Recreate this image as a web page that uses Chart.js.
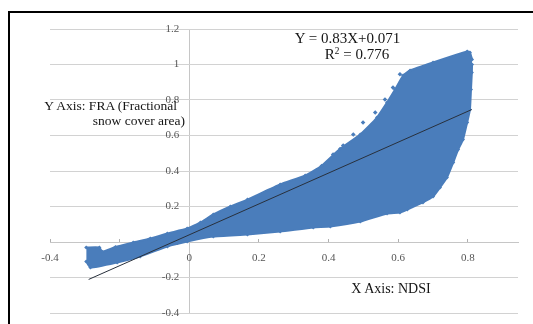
<!DOCTYPE html>
<html><head><meta charset="utf-8">
<script src="https://cdn.jsdelivr.net/npm/chart.js@4.4.1/dist/chart.umd.min.js"></script>
<style>
html,body{margin:0;padding:0;background:#fff;overflow:hidden;width:533px;height:324px;}
#wrap{position:relative;width:533px;height:324px;overflow:hidden;background:#fff;}
#hbar{position:absolute;left:8px;top:11px;width:525px;height:2px;background:#000;}
#vbar{position:absolute;left:8px;top:11px;width:2px;height:313px;background:#000;}
canvas{position:absolute;left:0;top:0;}
.t{position:absolute;font-family:"Liberation Serif","Times New Roman",serif;color:#141414;white-space:nowrap;line-height:1;}
.t sup{font-size:0.62em;line-height:0;vertical-align:0.55em;}
</style></head><body>
<div id="wrap">
<canvas id="c" width="533" height="324"></canvas>
<div id="hbar"></div>
<div id="vbar"></div>
<div class="t" style="left:347.5px;top:31px;font-size:15px;transform:translateX(-50%);">Y = 0.83X+0.071</div>
<div class="t" style="left:357px;top:47px;font-size:15px;transform:translateX(-50%);">R<sup>2</sup> = 0.776</div>
<div class="t" style="right:356px;top:99px;font-size:13.5px;">Y Axis: FRA (Fractional</div>
<div class="t" style="right:348px;top:114px;font-size:13.5px;">snow cover area)</div>
<div class="t" style="left:391px;top:282px;font-size:14px;transform:translateX(-50%);">X Axis: NDSI</div>
</div>
<script>
// ---- data ----
const xTickValues = [-0.4, -0.2, 0, 0.2, 0.4, 0.6, 0.8];
const xTickLabels = ['-0.4', '-0.2', '0', '0.2', '0.4', '0.6', '0.8'];
const yTickValues = [-0.4, -0.2, 0, 0.2, 0.4, 0.6, 0.8, 1, 1.2];
const yTickLabels = ['-0.4', '-0.2', '0', '0.2', '0.4', '0.6', '0.8', '1', '1.2'];

// upper envelope of the NDSI / FRA point cloud
const upperX = [-0.296, -0.258, -0.250, -0.212, -0.161, -0.112, -0.063, -0.006, 0.032, 0.069, 0.118, 0.167, 0.261, 0.333, 0.380, 0.433, 0.491, 0.539, 0.568, 0.591, 0.614, 0.634, 0.700, 0.798, 0.806, 0.812];
const upperY = [-0.031, -0.031, -0.055, -0.028, -0.003, 0.020, 0.048, 0.076, 0.110, 0.155, 0.200, 0.239, 0.324, 0.375, 0.430, 0.525, 0.606, 0.701, 0.786, 0.859, 0.938, 0.966, 1.011, 1.073, 1.068, 1.028];
// lower envelope (including the right-hand edge)
const lowerX = [-0.296, -0.284, -0.207, -0.141, -0.063, -0.006, 0.069, 0.167, 0.261, 0.356, 0.405, 0.491, 0.568, 0.605, 0.626, 0.671, 0.700, 0.720, 0.740, 0.758, 0.772, 0.786, 0.798, 0.806, 0.809, 0.8115, 0.812];
const lowerY = [-0.110, -0.144, -0.115, -0.082, -0.025, 0.003, 0.031, 0.042, 0.059, 0.082, 0.087, 0.115, 0.161, 0.166, 0.183, 0.223, 0.256, 0.307, 0.363, 0.448, 0.521, 0.577, 0.673, 0.746, 0.859, 0.955, 1.000];
// scattered points outside the dense body
const outX = [0.413, 0.442, 0.471, 0.499, 0.534, 0.562, 0.585, 0.605];
const outY = [0.493, 0.544, 0.606, 0.673, 0.730, 0.803, 0.870, 0.945];
// fitted line Y = 0.83X + 0.071 as drawn
const fitX = [-0.289, 0.811];
const fitY = [-0.211, 0.746];

const blue = '#4a7dbb';
const pts = (xs, ys) => xs.map((x, i) => ({x: x, y: ys[i]}));
const serif = 'Liberation Serif';

new Chart(document.getElementById('c'), {
  type: 'line',
  data: {
    datasets: [
      {data: pts(fitX, fitY), borderColor: '#28303c', borderWidth: 1, pointRadius: 0, fill: false, order: 0, xAxisID: 'x', yAxisID: 'y'},
      {data: pts(outX, outY), showLine: false, pointRadius: 2.3, pointStyle: 'rectRot', pointBackgroundColor: blue, pointBorderWidth: 0, order: 1, xAxisID: 'x', yAxisID: 'y'},
      {data: pts(upperX, upperY), borderColor: blue, backgroundColor: blue, borderWidth: 2, pointRadius: 2, pointStyle: 'rectRot', pointBackgroundColor: blue, pointBorderWidth: 0, fill: '+1', tension: 0.15, order: 2, xAxisID: 'x', yAxisID: 'y'},
      {data: pts(lowerX, lowerY), borderColor: blue, backgroundColor: blue, borderWidth: 2, pointRadius: 2, pointStyle: 'rectRot', pointBackgroundColor: blue, pointBorderWidth: 0, fill: false, tension: 0.15, order: 3, xAxisID: 'x', yAxisID: 'y'}
    ]
  },
  options: {
    responsive: false,
    devicePixelRatio: 1,
    animation: false,
    events: [],
    layout: {padding: {left: 50, top: 29, right: 15, bottom: 11}},
    plugins: {legend: {display: false}, tooltip: {enabled: false}},
    scales: {
      x: {
        type: 'linear', axis: 'x', min: -0.4, max: 0.944, position: {y: 0},
        afterBuildTicks: a => { a.ticks = xTickValues.map(v => ({value: v})); },
        ticks: {display: false},
        grid: {color: c => (c.tick && c.tick.value === 0) ? '#c6c6c6' : 'rgba(0,0,0,0)', tickColor: '#b0b0b0', tickLength: -4, drawTicks: true},
        border: {display: true, color: '#c6c6c6'}
      },
      y: {
        type: 'linear', axis: 'y', min: -0.4, max: 1.2, position: {x: 0},
        afterBuildTicks: a => { a.ticks = yTickValues.map(v => ({value: v})); },
        ticks: {display: false},
        grid: {color: '#d2d2d2', drawTicks: false},
        border: {display: false}
      },
      xl: {
        type: 'linear', axis: 'x', min: -0.4, max: 0.944, position: {y: 0}, z: 1,
        afterBuildTicks: a => { a.ticks = xTickValues.map(v => ({value: v})); },
        ticks: {callback: (v, i) => xTickLabels[i], font: {family: serif, size: 11}, color: '#555555', padding: 10, maxRotation: 0, autoSkip: false},
        grid: {display: false, drawTicks: false},
        border: {display: false}
      },
      yl: {
        type: 'linear', axis: 'y', min: -0.4, max: 1.2, position: {x: -0.029}, z: 1,
        afterBuildTicks: a => { a.ticks = yTickValues.map(v => ({value: v})); },
        ticks: {callback: (v, i) => yTickLabels[i], font: {family: serif, size: 11}, color: '#555555', padding: 0, autoSkip: false},
        grid: {display: false, drawTicks: false},
        border: {display: false}
      }
    }
  }
});
</script>
</body></html>
